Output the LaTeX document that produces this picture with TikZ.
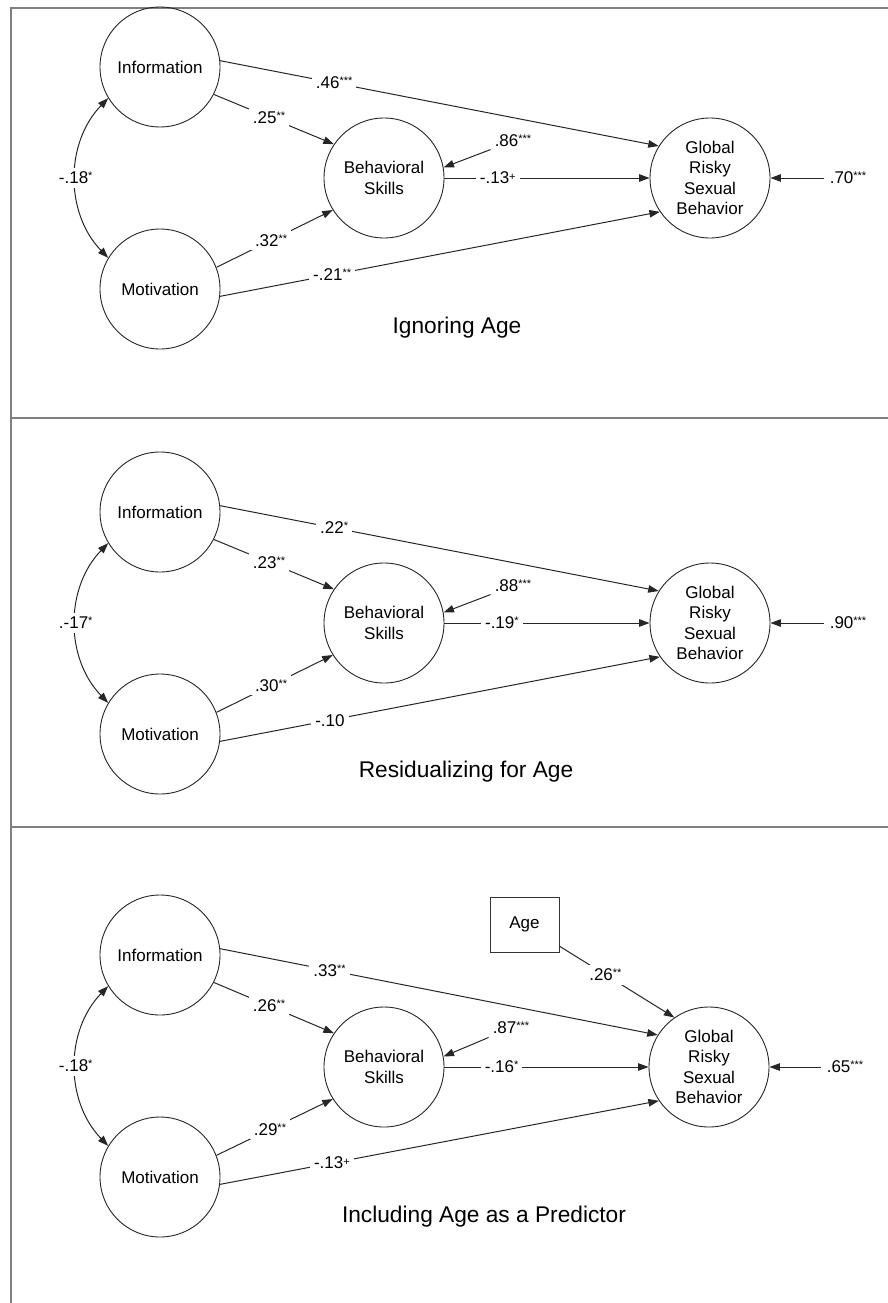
\documentclass[tikz,border=0pt]{standalone}
\usepackage{fontspec}
\setmainfont{Liberation Sans}
\usetikzlibrary{positioning}
\usetikzlibrary{arrows.meta}

\newcommand{\sigmark}[2][4pt]{\raisebox{#1}{\fontsize{11}{11}\selectfont #2}}

\begin{document}
\begin{tikzpicture}[
            x=1pt, y=-1pt,
            latent style/.style={circle, draw=black!85, line width=0.9pt, minimum size=120pt, inner sep=0pt, align=center, font=\fontsize{17}{20.5}\selectfont},
            box style/.style={rectangle, draw=black!80, line width=0.9pt, minimum width=69pt, minimum height=55pt, font=\fontsize{17}{20.5}\selectfont},
            coef style/.style={fill=white, inner sep=4pt, font=\fontsize{17}{20}\selectfont},
            title style/.style={font=\fontsize{22.7}{26}\selectfont},
            arrow style/.style={-{Triangle[length=10.5pt, width=7.5pt]}, line width=1pt, draw=black!85},
            corr style/.style={{Triangle[length=10.5pt, width=7.5pt]}-{Triangle[length=10.5pt, width=7.5pt]}, line width=1pt, draw=black!85},
            frame style/.style={draw=black!50, line width=1.5pt}
        ]
        \useasboundingbox (0,0) rectangle (888,1303);

        % frame and panel rules
        \draw[frame style] (888,8) -- (11,8) -- (11,1303);
        \draw[frame style] (11,418) -- (888,418);
        \draw[frame style] (11,827) -- (888,827);

        % panel 1: ignoring age
        \node[latent style] (info1) at (160,67) {Information};
        \node[latent style] (mot1) at (160,289) {Motivation};
        \node[latent style] (bs1) at (384,178) {Behavioral\\Skills};
        \node[latent style] (glob1) at (710,178) {Global\\Risky\\Sexual\\Behavior};
        \node[coef style] (ebs1) at (513,141) {.86\sigmark{***}};
        \node[coef style, inner sep=6pt] (eglob1) at (848,178) {.70\sigmark{***}};
        \node[title style] (title1) at (457,328) {Ignoring Age};

        \draw[arrow style] (info1.6) -- node[coef style, pos=0.26] {.46\sigmark{***}} (glob1.148);
        \draw[arrow style] (info1.-27) -- node[coef style, pos=0.46] {.25\sigmark{**}} (bs1.146);
        \draw[arrow style] (mot1.21) -- node[coef style, pos=0.47] {.32\sigmark{**}} (bs1.212);
        \draw[arrow style] (mot1.-7) -- node[coef style, pos=0.255] {-.21\sigmark{**}} (glob1.214);
        \draw[arrow style] (bs1.east) -- node[coef style, pos=0.26] {-.13\sigmark[3pt]{+}} (glob1.west);
        \draw[arrow style] (ebs1) -- (bs1.10);
        \draw[arrow style] (eglob1) -- (glob1.east);
        \draw[corr style] (info1.211) to[bend right=44] node[coef style] {-.18\sigmark{*}} (mot1.149);

        % panel 2: residualizing for age
        \begin{scope}[yshift=-445pt]
        \node[latent style] (info2) at (160,67) {Information};
        \node[latent style] (mot2) at (160,289) {Motivation};
        \node[latent style] (bs2) at (384,178) {Behavioral\\Skills};
        \node[latent style] (glob2) at (710,178) {Global\\Risky\\Sexual\\Behavior};
        \node[coef style] (ebs2) at (513,141) {.88\sigmark{***}};
        \node[coef style, inner sep=6pt] (eglob2) at (848,178) {.90\sigmark{***}};
        \node[title style] (title2) at (466,327) {Residualizing for Age};

        \draw[arrow style] (info2.6) -- node[coef style, pos=0.26] {.22\sigmark{*}} (glob2.148);
        \draw[arrow style] (info2.-27) -- node[coef style, pos=0.46] {.23\sigmark{**}} (bs2.146);
        \draw[arrow style] (mot2.21) -- node[coef style, pos=0.47] {.30\sigmark{**}} (bs2.212);
        \draw[arrow style] (mot2.-7) -- node[coef style, pos=0.25] {-.10} (glob2.214);
        \draw[arrow style] (bs2.east) -- node[coef style, pos=0.28] {-.19\sigmark{*}} (glob2.west);
        \draw[arrow style] (ebs2) -- (bs2.10);
        \draw[arrow style] (eglob2) -- (glob2.east);
        \draw[corr style] (info2.211) to[bend right=44] node[coef style] {.-17\sigmark{*}} (mot2.149);
        \end{scope}

        % panel 3: including age as a predictor
        \begin{scope}[yshift=-888pt]
        \node[latent style] (info3) at (160,67) {Information};
        \node[latent style] (mot3) at (160,289) {Motivation};
        \node[latent style] (bs3) at (384,179) {Behavioral\\Skills};
        \node[latent style] (glob3) at (709,179) {Global\\Risky\\Sexual\\Behavior};
        \node[box style] (age) at (524.5,36.5) {Age};
        \node[coef style] (ebs3) at (511,140) {.87\sigmark{***}};
        \node[coef style, inner sep=6pt] (eglob3) at (845,179) {.65\sigmark{***}};
        \node[title style] (title3) at (484,329) {Including Age as a Predictor};

        \draw[arrow style] (info3.6) -- node[coef style, pos=0.25] {.33\sigmark{**}} (glob3.148);
        \draw[arrow style] (info3.-27) -- node[coef style, pos=0.46] {.26\sigmark{**}} (bs3.146);
        \draw[arrow style] (mot3.21) -- node[coef style, pos=0.46] {.29\sigmark{**}} (bs3.212);
        \draw[arrow style] (mot3.-7) -- node[coef style, pos=0.255] {-.13\sigmark[3pt]{+}} (glob3.214);
        \draw[arrow style] (bs3.east) -- node[coef style, pos=0.28] {-.16\sigmark{*}} (glob3.west);
        \draw[arrow style] (age) -- node[coef style, pos=0.4] {.26\sigmark{**}} (glob3.125);
        \draw[arrow style] (ebs3) -- (bs3.10);
        \draw[arrow style] (eglob3) -- (glob3.east);
        \draw[corr style] (info3.211) to[bend right=44] node[coef style] {-.18\sigmark{*}} (mot3.149);
        \end{scope}
        \end{tikzpicture}
\end{document}
